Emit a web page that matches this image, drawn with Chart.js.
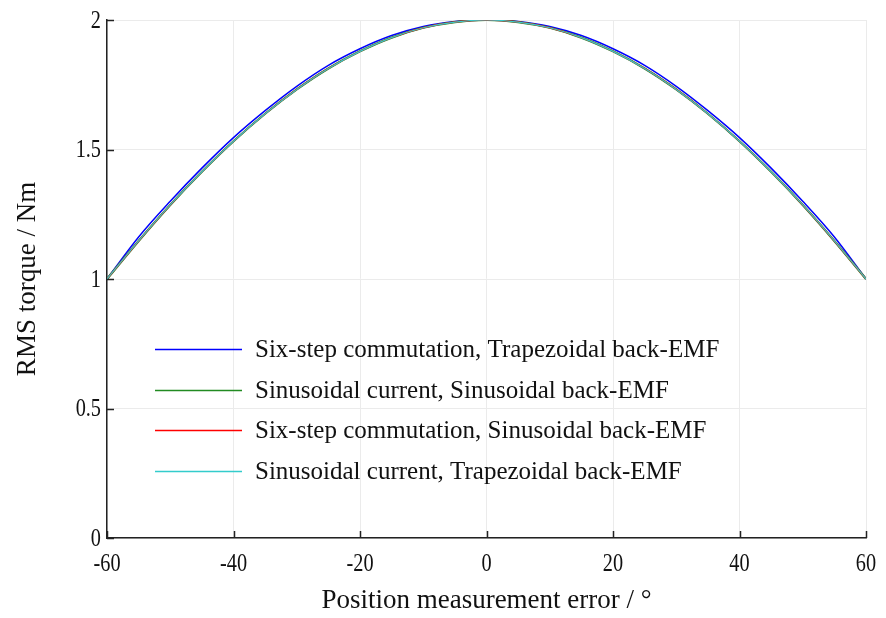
<!DOCTYPE html>
<html>
<head>
<meta charset="utf-8">
<title>RMS torque vs position error</title>
<script src="https://cdn.jsdelivr.net/npm/chart.js@4.4.1/dist/chart.umd.min.js"></script>
<style>
    html, body { margin: 0; padding: 0; background: #fff; }
    #wrap { width: 886px; height: 618px; }
</style>
</head>
<body>
<div id="wrap"><canvas id="myChart" width="886" height="618"></canvas></div>
<script>
// position error in degrees
var angles = [-60, -55, -50, -45, -40, -35, -30, -25, -20, -15, -10, -5, 0, 5, 10, 15, 20, 25, 30, 35, 40, 45, 50, 55, 60];

// RMS torque (Nm) for each drive / back-EMF combination
var sixStepTrap = [1.000, 1.162, 1.300, 1.428, 1.546, 1.650, 1.744, 1.825, 1.889, 1.940, 1.975, 1.994, 2.000, 1.994, 1.975, 1.940, 1.889, 1.825, 1.744, 1.650, 1.546, 1.428, 1.300, 1.162, 1.000];
var sinSin      = [1.000, 1.147, 1.286, 1.414, 1.532, 1.638, 1.732, 1.813, 1.879, 1.932, 1.970, 1.992, 2.000, 1.992, 1.970, 1.932, 1.879, 1.813, 1.732, 1.638, 1.532, 1.414, 1.286, 1.147, 1.000];
var sixStepSin  = [1.000, 1.147, 1.286, 1.414, 1.532, 1.638, 1.732, 1.813, 1.879, 1.932, 1.970, 1.992, 2.000, 1.992, 1.970, 1.932, 1.879, 1.813, 1.732, 1.638, 1.532, 1.414, 1.286, 1.147, 1.000];
var sinTrap     = [1.000, 1.147, 1.286, 1.414, 1.532, 1.638, 1.732, 1.813, 1.879, 1.932, 1.970, 1.992, 2.000, 1.992, 1.970, 1.932, 1.879, 1.813, 1.732, 1.638, 1.532, 1.414, 1.286, 1.147, 1.000];

var xTicks = [-60, -40, -20, 0, 20, 40, 60];
var yTicks = [0, 0.5, 1, 1.5, 2];

var serie = [
    { label: "Six-step commutation, Trapezoidal back-EMF", values: sixStepTrap, color: "rgb(0, 0, 255)",     width: 1.5, order: 3 },
    { label: "Sinusoidal current, Sinusoidal back-EMF",    values: sinSin,      color: "rgb(34, 139, 34)",   width: 2.2, order: 2 },
    { label: "Six-step commutation, Sinusoidal back-EMF",  values: sixStepSin,  color: "rgb(255, 0, 0)",     width: 1.5, order: 1 },
    { label: "Sinusoidal current, Trapezoidal back-EMF",   values: sinTrap,     color: "rgb(51, 204, 204)",  width: 1.2, order: 0 }
];

var fuente = "'Liberation Serif', 'DejaVu Serif', serif";

function puntos(valores) {
    var lista = [];
    for (var i = 0; i < angles.length; i++) lista.push({ x: angles[i], y: valores[i] });
    return lista;
}

// narrow text: tall glyphs squeezed horizontally
function textoAngosto(ctx, texto, x, y, alinear) {
    ctx.save();
    ctx.translate(x, y);
    ctx.scale(0.78, 1);
    ctx.textAlign = alinear;
    ctx.fillText(texto, 0, 0);
    ctx.restore();
}

// inward tick marks and tick labels on the left and bottom axes
var ticksAdentro = {
    id: "ticksAdentro",
    afterDraw: function (chart) {
        var ctx = chart.ctx;
        var area = chart.chartArea;
        var sx = chart.scales.x, sy = chart.scales.y;
        ctx.save();
        ctx.strokeStyle = "#222";
        ctx.lineWidth = 1.5;
        ctx.beginPath();
        xTicks.forEach(function (v) {
            var px = Math.round(sx.getPixelForValue(v)) + 0.5;
            ctx.moveTo(px, area.bottom);
            ctx.lineTo(px, area.bottom - 7);
        });
        yTicks.forEach(function (v) {
            var py = Math.round(sy.getPixelForValue(v)) + 0.5;
            ctx.moveTo(area.left, py);
            ctx.lineTo(area.left + 7, py);
        });
        ctx.stroke();

        ctx.fillStyle = "#111";
        ctx.font = "26px " + fuente;
        ctx.textBaseline = "middle";
        xTicks.forEach(function (v) {
            textoAngosto(ctx, String(v), sx.getPixelForValue(v), area.bottom + 26, "center");
        });
        yTicks.forEach(function (v) {
            textoAngosto(ctx, String(v), area.left - 6, sy.getPixelForValue(v) + 1, "right");
        });
        ctx.restore();
    }
};

// legend drawn inside the plot area
var leyenda = {
    id: "leyenda",
    afterDraw: function (chart) {
        var ctx = chart.ctx;
        var filas = [349, 390, 430, 471];
        ctx.save();
        ctx.font = "25px " + fuente;
        ctx.textBaseline = "middle";
        serie.forEach(function (s, i) {
            ctx.strokeStyle = s.color;
            ctx.lineWidth = 1.5;
            ctx.beginPath();
            ctx.moveTo(155, filas[i] + 0.5);
            ctx.lineTo(242, filas[i] + 0.5);
            ctx.stroke();
            ctx.fillStyle = "#111";
            ctx.fillText(s.label, 255, filas[i] + 1);
        });
        ctx.restore();
    }
};

window.onload = function () {
    var datasets = serie.map(function (s) {
        return {
            label: s.label,
            data: puntos(s.values),
            borderColor: s.color,
            backgroundColor: s.color,
            borderWidth: s.width,
            pointRadius: 0,
            cubicInterpolationMode: "monotone",
            fill: false,
            order: s.order
        };
    });

    var config = {
        type: "line",
        data: { datasets: datasets },
        options: {
            responsive: false,
            animation: false,
            layout: { padding: { top: 20, right: 20, left: 0, bottom: 0 } },
            plugins: { legend: { display: false }, tooltip: { enabled: false } },
            scales: {
                x: {
                    type: "linear",
                    min: -60,
                    max: 60,
                    afterBuildTicks: function (scale) {
                        scale.ticks = xTicks.map(function (v) { return { value: v }; });
                    },
                    afterFit: function (scale) { scale.height = 80; },
                    grid: { color: "#ebebeb", lineWidth: 1, drawTicks: false },
                    border: { display: true, color: "#222", width: 1.5 },
                    ticks: { display: false },
                    title: {
                        display: true,
                        text: "Position measurement error / °",
                        color: "#111",
                        font: { family: fuente, size: 27 },
                        padding: { top: 0, bottom: 1 }
                    }
                },
                y: {
                    type: "linear",
                    min: 0,
                    max: 2,
                    afterBuildTicks: function (scale) {
                        scale.ticks = yTicks.map(function (v) { return { value: v }; });
                    },
                    afterFit: function (scale) { scale.width = 107; },
                    grid: { color: "#ebebeb", lineWidth: 1, drawTicks: false },
                    border: { display: true, color: "#222", width: 1.5 },
                    ticks: { display: false },
                    title: {
                        display: true,
                        text: "RMS torque / Nm",
                        color: "#111",
                        font: { family: fuente, size: 27 },
                        padding: { top: 12, bottom: 0 }
                    }
                }
            }
        },
        plugins: [ticksAdentro, leyenda]
    };

    var myChart = new Chart(document.getElementById("myChart"), config);
};
</script>
</body>
</html>
